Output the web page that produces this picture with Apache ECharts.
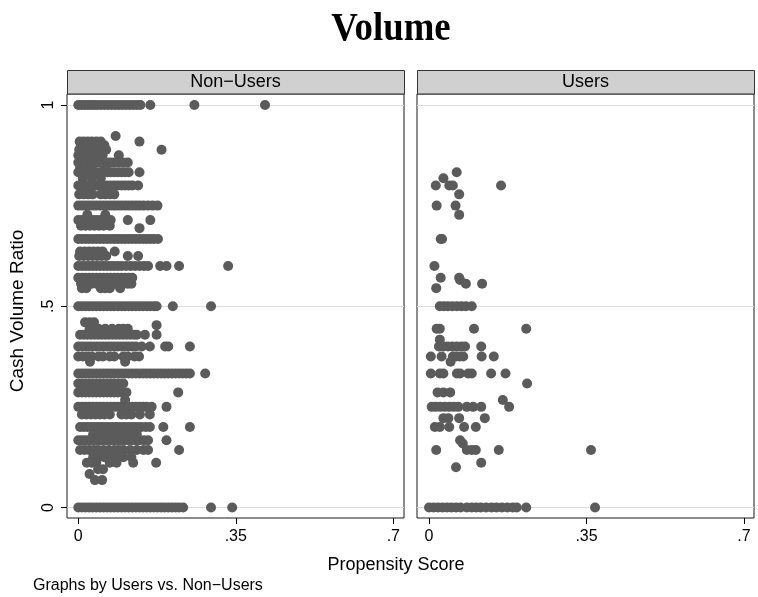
<!DOCTYPE html>
<html><head><meta charset="utf-8">
<script src="https://cdn.jsdelivr.net/npm/echarts@6/dist/echarts.min.js"></script>
<style>html,body{margin:0;padding:0;background:#fff}#c{width:758px;height:597px}</style>
</head><body><div id="c"></div>
<script>
const chartTitle = 'Volume';
const panelTitles = ['Non\u2212Users', 'Users'];
const xAxisTitle = 'Propensity Score';
const yAxisTitle = 'Cash Volume Ratio';
const noteText = 'Graphs by Users vs. Non\u2212Users';
const xTicks = [0, 0.35, 0.7];
const xTickLabels = ['0', '.35', '.7'];
const yTicks = [0, 0.5, 1];
const yTickLabels = ['0', '.5', '1'];

// rows: [cash volume ratio, [propensity scores...]]
const nonUsersRows = [
  [1, [0,.007,.014,.021,.028,.035,.042,.05,.058,.066,.074,.082,.09,.098,.106,.114,.122,.13,.138,.16,.258,.415]],
  [.923, [.083]],
  [.909, [.003,.012,.021,.03,.04,.05,.136]],
  [.9, [.006,.016,.026,.036,.046,.058]],
  [.889, [.002,.011,.02,.03,.04,.05,.062,.185]],
  [.875, [0,.009,.018,.027,.036,.045,.054,.09]],
  [.857, [0,.008,.016,.024,.032,.04,.048,.056,.064,.072,.08,.09,.1,.11]],
  [.846, [.004,.014,.03,.06]],
  [.833, [0,.008,.016,.024,.032,.04,.048,.056,.064,.072,.08,.088,.096,.104,.112,.136]],
  [.818, [.01,.03,.05]],
  [.8, [0,.008,.016,.024,.032,.04,.048,.056,.064,.072,.08,.088,.096,.104,.112,.12,.133]],
  [.778, [.002,.012,.022,.032,.05,.06,.07,.08]],
  [.75, [0,.008,.016,.024,.032,.04,.048,.056,.064,.072,.08,.088,.096,.104,.112,.12,.128,.136,.145,.155,.165,.176]],
  [.727, [.02,.06]],
  [.714, [0,.008,.016,.024,.032,.04,.048,.056,.064,.072,.11,.16]],
  [.7, [.006,.016,.026,.036,.046,.056,.07]],
  [.694, [.136]],
  [.667, [0,.008,.016,.024,.032,.04,.048,.056,.064,.072,.08,.088,.096,.104,.112,.12,.128,.136,.144,.152,.16,.168,.177]],
  [.636, [.004,.014,.024,.034,.044,.054,.081]],
  [.625, [.002,.012,.022,.032,.042,.052,.062,.11,.133]],
  [.6, [0,.008,.016,.024,.032,.04,.048,.056,.064,.072,.08,.088,.096,.106,.116,.126,.136,.146,.155,.182,.196,.224,.333]],
  [.571, [0,.008,.016,.024,.032,.04,.048,.056,.064,.072,.08,.088,.096,.104,.112,.12]],
  [.556, [.006,.014,.022,.03,.04,.05,.06,.07,.08,.09,.1,.11,.118]],
  [.545, [.008,.018,.05,.06,.07,.093]],
  [.5, [0,.008,.016,.024,.032,.04,.048,.056,.064,.072,.08,.088,.096,.104,.112,.12,.128,.136,.144,.152,.16,.168,.174,.21,.295]],
  [.46, [.015,.025,.035]],
  [.453, [.174]],
  [.444, [.025,.035,.045,.06,.075,.09,.1,.11]],
  [.429, [.004,.012,.02,.028,.036,.044,.052,.06,.068,.076,.084,.092,.1,.108,.116,.124,.13,.148,.174]],
  [.4, [0,.008,.016,.024,.032,.04,.048,.056,.064,.072,.08,.088,.096,.104,.112,.12,.128,.141,.159,.193,.2,.248]],
  [.375, [0,.01,.02,.03,.045,.055,.07,.08,.1,.11,.125,.135]],
  [.362, [.026,.104]],
  [.333, [0,.008,.016,.024,.032,.04,.048,.056,.064,.072,.08,.088,.096,.104,.112,.12,.128,.136,.144,.152,.16,.168,.176,.184,.192,.2,.208,.216,.224,.232,.24,.248,.282]],
  [.308, [0,.008,.016,.024,.032,.04,.048,.056,.064,.072,.08,.09,.1]],
  [.286, [0,.008,.016,.024,.032,.04,.048,.056,.064,.072,.08,.088,.096,.107,.222]],
  [.267, [.104]],
  [.25, [0,.008,.016,.024,.032,.04,.048,.056,.064,.072,.08,.088,.096,.104,.112,.12,.128,.136,.144,.152,.163,.196]],
  [.231, [.008,.018,.028,.038,.048,.058,.07,.096,.107,.118,.137,.159]],
  [.2, [.004,.012,.02,.028,.036,.044,.052,.06,.068,.076,.084,.092,.1,.108,.116,.124,.132,.14,.15,.159,.189,.248]],
  [.182, [.033,.045,.06,.075,.09,.105,.118,.13]],
  [.167, [0,.008,.016,.024,.032,.04,.048,.056,.064,.072,.08,.088,.096,.104,.112,.12,.128,.136,.146,.155,.196]],
  [.143, [.004,.014,.024,.034,.044,.056,.068,.08,.09,.1,.115,.13,.145,.155,.224]],
  [.125, [.033,.045,.058,.07,.085,.1,.118]],
  [.111, [.019,.03,.04,.07,.085,.122,.173]],
  [.095, [.044,.055]],
  [.083, [.025]],
  [.068, [.037,.053]],
  [0, [0,.008,.016,.024,.032,.04,.048,.056,.064,.072,.08,.088,.096,.104,.112,.12,.128,.136,.144,.152,.16,.168,.176,.184,.192,.2,.208,.216,.224,.233,.295,.342]]
];

const usersRows = [
  [.833, [.0615]],
  [.818, [.032]],
  [.8, [.015,.045,.053,.16]],
  [.778, [.067]],
  [.75, [.017,.059]],
  [.727, [.067]],
  [.667, [.026,.029]],
  [.6, [.012]],
  [.571, [.026,.067]],
  [.565, [.069]],
  [.556, [.082,.118]],
  [.545, [.016]],
  [.5, [.024,.033,.042,.052,.062,.072,.082,.095]],
  [.444, [.017,.024,.1,.216]],
  [.417, [.024]],
  [.4, [.022,.032,.042,.052,.062,.072,.08,.116]],
  [.375, [.004,.028,.053,.06,.068,.076,.117,.144]],
  [.362, [.048]],
  [.333, [.004,.024,.032,.062,.069,.087,.095,.138,.17]],
  [.308, [.218]],
  [.286, [.019,.032,.047]],
  [.267, [.164]],
  [.25, [.006,.015,.025,.035,.045,.055,.065,.084,.098,.116,.178]],
  [.222, [.032,.043,.067,.124]],
  [.2, [.013,.024,.045,.078,.104]],
  [.167, [.069]],
  [.159, [.075]],
  [.143, [.016,.084,.095,.104,.155,.36]],
  [.111, [.116]],
  [.1, [.06]],
  [0, [0,.01,.02,.03,.04,.05,.06,.07,.084,.095,.105,.115,.127,.139,.15,.162,.174,.186,.195,.216,.369]]
];

function flatten(rows) {
  const out = [];
  rows.forEach(r => r[1].forEach(x => out.push([x, r[0]])));
  return out;
}

const FONT = '"Liberation Sans", Arial, Helvetica, sans-serif';
const dotColor = '#5b5b5b';
const P = [{left: 67, cx: 78.3, xmin: -0.0251, xmax: 0.7238}, {left: 417, cx: 429, xmin: -0.0267, xmax: 0.7222}];
const W = 337, TOP = 94, H = 424;
const YMIN = -0.0261, YMAX = 1.0273;

const grids = [], xAxes = [], yAxes = [], series = [], graphics = [];
const datasets = [flatten(nonUsersRows), flatten(usersRows)];

P.forEach((p, i) => {
  // data grid
  grids.push({left: p.left, top: TOP, width: W, height: H, show: true, borderColor: '#1a1a1a', borderWidth: 1, backgroundColor: 'transparent'});
  xAxes.push({gridIndex: grids.length - 1, type: 'value', min: p.xmin, max: p.xmax, show: false});
  yAxes.push({gridIndex: grids.length - 1, type: 'value', min: YMIN, max: YMAX, show: false});
  series.push({type: 'scatter', xAxisIndex: xAxes.length - 1, yAxisIndex: yAxes.length - 1,
    data: datasets[i], symbol: 'circle', symbolSize: 10, itemStyle: {color: dotColor, opacity: 1}, z: 3, silent: true});
  // y ticks + grid lines
  grids.push({left: p.left, top: 105, width: W, height: 402.5});
  xAxes.push({gridIndex: grids.length - 1, type: 'value', min: 0, max: 1, show: false});
  yAxes.push({gridIndex: grids.length - 1, type: 'value', min: 0, max: 1, interval: 0.5, show: true,
    axisLine: {show: false},
    axisTick: {show: i === 0, length: 6, lineStyle: {color: '#000', width: 1}},
    axisLabel: {show: i === 0, rotate: 90, margin: 10, fontFamily: FONT, fontSize: 16, color: '#000',
      formatter: v => yTickLabels[yTicks.findIndex(t => Math.abs(t - v) < 1e-6)]},
    splitLine: {show: true, lineStyle: {color: '#dcdcdc', width: 1}}});
  // x ticks
  grids.push({left: p.cx, top: TOP, width: 315, height: H});
  xAxes.push({gridIndex: grids.length - 1, type: 'value', min: 0, max: 0.7, interval: 0.35, show: true,
    axisLine: {show: false},
    axisTick: {show: true, length: 6, lineStyle: {color: '#000', width: 1}},
    axisLabel: {show: true, margin: 11, fontFamily: FONT, fontSize: 16, color: '#000',
      formatter: v => xTickLabels[xTicks.findIndex(t => Math.abs(t - v) < 1e-6)]},
    splitLine: {show: false}});
  yAxes.push({gridIndex: grids.length - 1, type: 'value', min: 0, max: 1, show: false});
  // header strip
  graphics.push({type: 'rect', shape: {x: p.left + 0.5, y: 70.5, width: W, height: 23.5},
    style: {fill: '#d0d0d0', stroke: '#333', lineWidth: 1}, z: 10});
  graphics.push({type: 'text', x: p.left + W / 2, y: 82.5,
    style: {text: panelTitles[i], font: '18px ' + FONT, fill: '#000', textAlign: 'center', textVerticalAlign: 'middle'}, z: 11});
});

graphics.push({type: 'text', x: 391, y: 30, scaleX: 0.92,
  style: {text: chartTitle, font: 'bold 40px "Liberation Serif", "Times New Roman", serif', fill: '#000', textAlign: 'center', textVerticalAlign: 'middle'}});
graphics.push({type: 'text', x: 396, y: 565,
  style: {text: xAxisTitle, font: '18px ' + FONT, fill: '#000', textAlign: 'center', textVerticalAlign: 'middle'}});
graphics.push({type: 'text', x: 18, y: 311, rotation: Math.PI / 2,
  style: {text: yAxisTitle, font: '19px ' + FONT, fill: '#000', textAlign: 'center', textVerticalAlign: 'middle'}});
graphics.push({type: 'text', x: 33, y: 586,
  style: {text: noteText, font: '16px ' + FONT, fill: '#000', textAlign: 'left', textVerticalAlign: 'middle'}});

const chart = echarts.init(document.getElementById('c'), null, {renderer: 'canvas'});
chart.setOption({
  animation: false,
  backgroundColor: '#fff',
  grid: grids, xAxis: xAxes, yAxis: yAxes, series: series,
  graphic: {elements: graphics}
});
</script>
</body></html>
